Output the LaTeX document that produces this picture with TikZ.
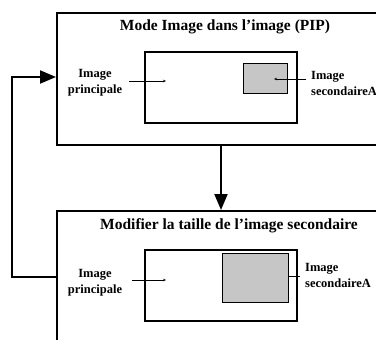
\documentclass[tikz,border=0pt]{standalone}
\usepackage{fontspec}
\setmainfont{Liberation Serif}
\usetikzlibrary{arrows.meta}
\begin{document}
\begin{tikzpicture}[x=1pt,y=-1pt,
  bigbox/.style={draw,line width=2pt,minimum width=364pt,anchor=north west,inner sep=0pt},
  picbox/.style={draw,line width=2pt,anchor=north west,inner sep=0pt,minimum width=152pt,minimum height=71pt},
  subbox/.style={draw,line width=1.1pt,fill=gray!45,anchor=north west,inner sep=0pt},
  title/.style={font=\bfseries\fontsize{15.5}{17}\selectfont,inner sep=0pt},
  lbl/.style={font=\bfseries\fontsize{12.5}{16}\selectfont,inner sep=0pt},
  ptr/.style={line width=0.8pt,-{Stealth[length=3pt,width=2.5pt]}},
  flow/.style={line width=2pt,-{Triangle[length=16pt,width=13pt]}},
  line/.style={line width=2pt}]
\clip (0,0) rectangle (376,340);
% top box
\node[bigbox,minimum height=132pt] (top) at (56,12) {};
\node[title] (ttop) at (225,27) {Mode Image dans l’image (PIP)};
\node[picbox] (ptop) at (144,51) {};
\node[subbox,minimum width=44pt,minimum height=30pt] (stop) at (243,63) {};
\node[lbl,align=center] (lpt) at (95,83) {Image\\principale};
\node[lbl,align=left,anchor=west] (lst) at (311,83) {Image\\secondaireA};
\coordinate (pt1) at (129,81);
\coordinate (pt2) at (166,81);
\draw[ptr] (pt1) -- (pt2);
\coordinate (st1) at (306,79);
\coordinate (st2) at (274,79);
\draw[ptr] (st1) -- (st2);
% bottom box
\node[bigbox,minimum height=200pt] (bot) at (56,210) {};
\node[title] (tbot) at (229,226) {Modifier la taille de l’image secondaire};
\node[picbox] (pbot) at (144,249) {};
\node[subbox,minimum width=66pt,minimum height=49pt] (sbot) at (222,253) {};
\node[lbl,align=center] (lpb) at (95,283) {Image\\principale};
\node[lbl,align=left,anchor=west] (lsb) at (305,275) {Image\\secondaireA};
\coordinate (pb1) at (132,280);
\coordinate (pb2) at (166,280);
\draw[ptr] (pb1) -- (pb2);
\draw[line width=0.8pt] (sbot.east |- 0,276) -- (300,276);
% flow
\coordinate (a1) at (221,144);
\coordinate (a2) at (221,210);
\draw[flow] (a1) -- (a2);
\coordinate (b1) at (56,277);
\coordinate (b2) at (56,77);
\draw[flow] (b1) -- (12,277) -- (12,77) -- (b2);
\end{tikzpicture}
\end{document}
